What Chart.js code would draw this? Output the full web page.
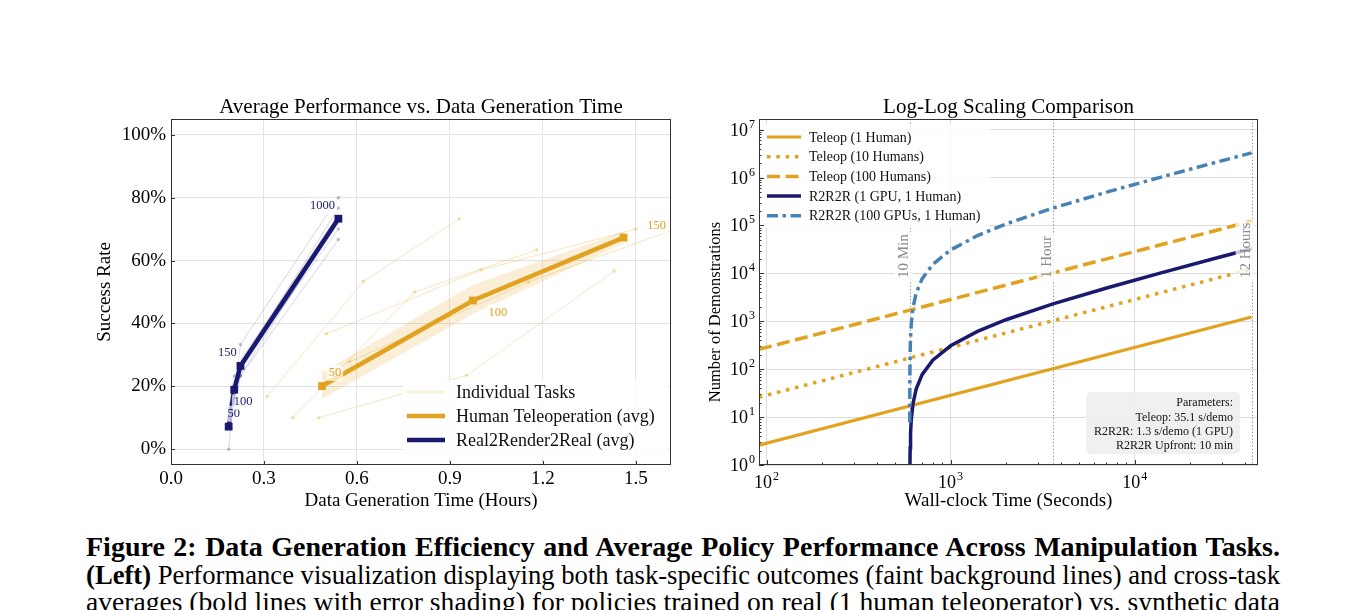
<!DOCTYPE html>
<html>
<head>
<meta charset="utf-8">
<script src="https://cdn.jsdelivr.net/npm/chart.js@4.4.1/dist/chart.umd.min.js"></script>
<style>
  html, body { margin: 0; padding: 0; background: #fff; }
  body { width: 1358px; height: 610px; overflow: hidden; position: relative; }
  .chart-box { position: absolute; top: 90px; width: 600px; height: 430px; }
  .cap { position: absolute; left: 86px; font-family: 'Liberation Serif', 'Times New Roman', serif;
         font-size: 28px; line-height: 28px; white-space: nowrap; color: #000; transform-origin: 0 0; }
</style>
</head>
<body>
<div class="chart-box" style="left:90px"><canvas id="left"></canvas></div>
<div class="chart-box" style="left:690px"><canvas id="right"></canvas></div>
<div class="cap" style="top:533px"><b>Figure 2: Data Generation Efficiency and Average Policy Performance Across Manipulation Tasks.</b></div>
<div class="cap" style="top:561px"><b>(Left)</b> Performance visualization displaying both task-specific outcomes (faint background lines) and cross-task</div>
<div class="cap" style="top:588px">averages (bold lines with error shading) for policies trained on real (1 human teleoperator) vs. synthetic data</div>
<script>
// ---- left chart: success rate vs hours ----
const hourTicks = [0.0, 0.3, 0.6, 0.9, 1.2, 1.5];
const rateTicks = [0, 20, 40, 60, 80, 100];

const teleopDemos = [50, 100, 150];
const teleopHours = [0.487, 0.974, 1.46];
const teleopAvg = [20.1, 47.3, 67.3];
const teleopLow = [16.0, 43.0, 65.4];
const teleopHigh = [24.4, 52.3, 69.2];

const r2rDemos = [50, 100, 150, 1000];
const r2rHours = [0.186, 0.204, 0.224, 0.54];
const r2rAvg = [7.2, 18.9, 26.5, 73.3];
const r2rLow = [5.2, 16.8, 24.6, 71.6];
const r2rHigh = [9.4, 21.2, 28.6, 75.0];

// individual tasks (5 per method)
const teleopTaskHours = [
  [0.31, 0.62, 0.93],
  [0.393, 0.786, 1.18],
  [0.477, 0.954, 1.43],
  [0.501, 1.0, 1.5],
  [0.576, 1.153, 1.73]
];
const teleopTaskRates = [
  [16.8, 53.3, 73.3],
  [10.0, 50.0, 63.4],
  [10.0, 23.5, 56.7],
  [36.7, 57.0, 70.0],
  [27.8, 53.2, 73.6]
];
const r2rTaskRates = [
  [0.0, 18.0, 33.3, 80.0],
  [7.0, 20.0, 26.7, 76.7],
  [13.0, 23.3, 26.7, 70.0],
  [10.0, 20.0, 23.3, 66.7],
  [6.7, 13.3, 23.3, 73.3]
];

// ---- right chart: log-log scaling ----
const secTicks = [100, 1000, 10000];
const demoTicks = [1, 10, 100, 1000, 10000, 100000, 1000000, 10000000];
const markerSec = [600, 3600, 43200];
const markerNames = ['10 Min', '1 Hour', '12 Hours'];

const teleopSec = [91, 43200];
const teleop1Human = [2.6, 1231];
const teleop10Humans = [26, 12310];
const teleop100Humans = [259, 123100];

const r2rSec = [600.1, 601, 603, 606, 612, 625, 650, 700, 800, 1000, 1400, 2000, 3600, 7200, 14400, 28800, 43200];
const r2r1Gpu = [0.077, 0.77, 2.3, 4.6, 9.2, 19.2, 38.5, 76.9, 154, 308, 615, 1077, 2308, 5077, 10615, 21692, 32769];
const r2r100Gpu = [7.7, 77, 231, 462, 923, 1923, 3846, 7692, 15385, 30769, 61538, 107692, 230769, 507692, 1061538, 2169231, 3276923];

const paramLines = ['Parameters:', 'Teleop: 35.1 s/demo', 'R2R2R: 1.3 s/demo (1 GPU)', 'R2R2R Upfront: 10 min'];

const SERIF = "'Liberation Serif', 'Times New Roman', serif";
const TELEOP = '#E2A21F';
const NAVY = '#191970';
const STEEL = '#4682B4';

const pts = (xs, ys) => xs.map((x, i) => ({ x: x, y: ys[i] }));

// fit each caption line to the full text width
document.querySelectorAll('.cap').forEach(el => {
  const gaps = (el.textContent.match(/ /g) || []).length;
  const w = el.getBoundingClientRect().width;
  if (w <= 1194) {
    el.style.wordSpacing = ((1194 - w) / gaps) + 'px';
  } else {
    el.style.transform = 'scaleX(' + (1194 / w) + ')';
  }
});

function roundRect(ctx, x, y, w, h, r) {
  ctx.beginPath();
  ctx.moveTo(x + r, y);
  ctx.arcTo(x + w, y, x + w, y + h, r);
  ctx.arcTo(x + w, y + h, x, y + h, r);
  ctx.arcTo(x, y + h, x, y, r);
  ctx.arcTo(x, y, x + w, y, r);
  ctx.closePath();
}

const plotTitle = {
  id: 'plotTitle',
  afterDraw(chart, args, opts) {
    const { ctx, chartArea: a } = chart;
    ctx.save();
    ctx.font = '21px ' + SERIF;
    ctx.fillStyle = '#000';
    ctx.textAlign = 'center';
    ctx.textBaseline = 'alphabetic';
    ctx.fillText(opts.text, (a.left + a.right) / 2, a.top - 6);
    ctx.restore();
  }
};

function drawFrame(ctx, a) {
  ctx.strokeStyle = '#333';
  ctx.lineWidth = 1;
  ctx.strokeRect(Math.round(a.left) + 0.5, Math.round(a.top) + 0.5,
    Math.round(a.right - a.left) - 1, Math.round(a.bottom - a.top) - 1);
}

// ---------- LEFT ----------
const leftSets = [];
leftSets.push({ data: pts(teleopHours, teleopLow), borderWidth: 0, pointRadius: 0, fill: false, order: 5 });
leftSets.push({ data: pts(teleopHours, teleopHigh), borderWidth: 0, pointRadius: 0, fill: 0,
  backgroundColor: 'rgba(226,162,31,0.18)', order: 5 });
leftSets.push({ data: pts(r2rHours, r2rLow), borderWidth: 0, pointRadius: 0, fill: false, order: 5 });
leftSets.push({ data: pts(r2rHours, r2rHigh), borderWidth: 0, pointRadius: 0, fill: 2,
  backgroundColor: 'rgba(25,25,112,0.12)', order: 5 });
teleopTaskHours.forEach((hrs, i) => leftSets.push({
  data: pts(hrs, teleopTaskRates[i]), borderColor: 'rgba(226,162,31,0.28)',
  backgroundColor: 'rgba(226,162,31,0.35)', borderWidth: 1, pointRadius: 1.8, pointBorderWidth: 0, order: 3
}));
r2rTaskRates.forEach(rates => leftSets.push({
  data: pts(r2rHours, rates), borderColor: 'rgba(25,25,112,0.18)',
  backgroundColor: 'rgba(25,25,112,0.25)', borderWidth: 1, pointRadius: 1.8, pointBorderWidth: 0, order: 3
}));
leftSets.push({ label: 'Human Teleoperation (avg)', data: pts(teleopHours, teleopAvg), borderColor: TELEOP,
  backgroundColor: TELEOP, borderWidth: 4.5, pointStyle: 'rect', pointRadius: 5.5, pointBorderWidth: 0, order: 1 });
leftSets.push({ label: 'Real2Render2Real (avg)', data: pts(r2rHours, r2rAvg), borderColor: NAVY,
  backgroundColor: NAVY, borderWidth: 4.5, pointStyle: 'rect', pointRadius: 5.5, pointBorderWidth: 0, order: 0 });

function pointLabel(ctx, text, x, y, color) {
  ctx.font = '12.5px ' + SERIF;
  const w = ctx.measureText(text).width;
  ctx.fillStyle = 'rgba(255,255,255,0.7)';
  roundRect(ctx, x - w / 2 - 2, y - 8, w + 4, 16, 3);
  ctx.fill();
  ctx.fillStyle = color;
  ctx.textAlign = 'center';
  ctx.textBaseline = 'middle';
  ctx.fillText(text, x, y);
}

const leftExtras = {
  id: 'leftExtras',
  afterDatasetsDraw(chart) {
    const { ctx, chartArea: a, scales: { x, y } } = chart;
    ctx.save();
    // demo-count labels
    const tOff = [[13, -13], [25, 12], [33, -12]];
    teleopDemos.forEach((d, i) => pointLabel(ctx, String(d),
      x.getPixelForValue(teleopHours[i]) + tOff[i][0], y.getPixelForValue(teleopAvg[i]) + tOff[i][1], TELEOP));
    const rOff = [[5, -13], [9, 12], [-13, -13], [-16, -13]];
    r2rDemos.forEach((d, i) => pointLabel(ctx, String(d),
      x.getPixelForValue(r2rHours[i]) + rOff[i][0], y.getPixelForValue(r2rAvg[i]) + rOff[i][1], NAVY));
    // legend
    ctx.fillStyle = 'rgba(255,255,255,0.85)';
    roundRect(ctx, a.right - 268, a.bottom - 85, 265, 79, 3);
    ctx.fill();
    const rows = [
      ['Individual Tasks', 'rgba(226,162,31,0.15)', 3],
      ['Human Teleoperation (avg)', TELEOP, 4.5],
      ['Real2Render2Real (avg)', NAVY, 4.5]
    ];
    ctx.font = '18px ' + SERIF;
    ctx.textAlign = 'left';
    ctx.textBaseline = 'middle';
    rows.forEach((r, i) => {
      const ry = a.bottom - 73 + i * 24;
      ctx.strokeStyle = r[1];
      ctx.lineWidth = r[2];
      ctx.beginPath();
      ctx.moveTo(a.right - 264, ry);
      ctx.lineTo(a.right - 226, ry);
      ctx.stroke();
      ctx.fillStyle = '#111';
      ctx.fillText(r[0], a.right - 215, ry + 1);
    });
    ctx.restore();
  },
  afterDraw(chart) {
    const { ctx, chartArea: a, scales: { x, y } } = chart;
    ctx.save();
    ctx.strokeStyle = '#333';
    ctx.lineWidth = 1;
    ctx.beginPath();
    hourTicks.forEach(v => {
      const px = Math.round(x.getPixelForValue(v)) + 0.5;
      ctx.moveTo(px, a.bottom); ctx.lineTo(px, a.bottom - 4);
    });
    rateTicks.forEach(v => {
      const py = Math.round(y.getPixelForValue(v)) + 0.5;
      ctx.moveTo(a.left, py); ctx.lineTo(a.left + 4, py);
    });
    ctx.stroke();
    drawFrame(ctx, a);
    ctx.restore();
  }
};

new Chart(document.getElementById('left'), {
  type: 'line',
  data: { datasets: leftSets },
  options: {
    responsive: true,
    maintainAspectRatio: false,
    animation: false,
    layout: { padding: { top: 29, right: 19, left: 0, bottom: 0 } },
    plugins: {
      legend: { display: false },
      tooltip: { enabled: false },
      plotTitle: { text: 'Average Performance vs. Data Generation Time' }
    },
    scales: {
      x: {
        type: 'linear', min: 0, max: 1.613,
        afterBuildTicks: s => { s.ticks = hourTicks.map(v => ({ value: v })); },
        afterFit: s => { s.height = 55; },
        ticks: { font: { family: SERIF, size: 19 }, color: '#000', padding: 3, callback: v => v.toFixed(1), maxRotation: 0 },
        grid: { color: '#e4e4e4', lineWidth: 1, drawTicks: false },
        border: { display: false },
        title: { display: true, text: 'Data Generation Time (Hours)', font: { family: SERIF, size: 19 }, color: '#000', padding: { top: 0, bottom: 8 } }
      },
      y: {
        type: 'linear', min: -5, max: 105,
        afterBuildTicks: s => { s.ticks = rateTicks.map(v => ({ value: v })); },
        afterFit: s => { s.width = 81; },
        ticks: { font: { family: SERIF, size: 19 }, color: '#000', padding: 5, callback: v => v + '%' },
        grid: { color: '#e2e2e2', lineWidth: 1, drawTicks: false },
        border: { display: false },
        title: { display: true, text: 'Success Rate', font: { family: SERIF, size: 19 }, color: '#000', padding: { top: 4, bottom: 0 } }
      }
    }
  },
  plugins: [plotTitle, leftExtras]
});

// ---------- RIGHT ----------
const rightSets = [
  { label: 'Teleop (1 Human)', data: pts(teleopSec, teleop1Human), borderColor: TELEOP, borderWidth: 3.2, order: 4 },
  { label: 'Teleop (10 Humans)', data: pts(teleopSec, teleop10Humans), borderColor: TELEOP, borderWidth: 3.5, borderDash: [3.5, 5.8], order: 3 },
  { label: 'Teleop (100 Humans)', data: pts(teleopSec, teleop100Humans), borderColor: TELEOP, borderWidth: 3.5, borderDash: [13, 5.6], order: 2 },
  { label: 'R2R2R (1 GPU, 1 Human)', data: pts(r2rSec, r2r1Gpu), borderColor: NAVY, borderWidth: 3.5, order: 1 },
  { label: 'R2R2R (100 GPUs, 1 Human)', data: pts(r2rSec, r2r100Gpu), borderColor: STEEL, borderWidth: 3.5, borderDash: [11, 4.5, 3.5, 4.5], order: 0 }
];
rightSets.forEach(d => { d.pointRadius = 0; d.fill = false; d.tension = 0; });

function powerLabel(ctx, exp, x, y, align) {
  ctx.font = '18px ' + SERIF;
  const bw = ctx.measureText('10').width;
  ctx.font = '12px ' + SERIF;
  const ew = ctx.measureText(String(exp)).width;
  const total = bw + ew + 1;
  const left = align === 'center' ? x - total / 2 : x - total;
  ctx.textAlign = 'left';
  ctx.textBaseline = 'alphabetic';
  ctx.fillStyle = '#000';
  ctx.font = '18px ' + SERIF;
  ctx.fillText('10', left, y);
  ctx.font = '12px ' + SERIF;
  ctx.fillText(String(exp), left + bw + 1, y - 8);
}

const rightExtras = {
  id: 'rightExtras',
  beforeDatasetsDraw(chart) {
    const { ctx, chartArea: a, scales: { x } } = chart;
    ctx.save();
    ctx.strokeStyle = 'rgba(110,110,110,0.8)';
    ctx.lineWidth = 1;
    ctx.setLineDash([1.2, 2.2]);
    markerSec.forEach(s => {
      const px = Math.round(x.getPixelForValue(s)) + 0.5;
      ctx.beginPath();
      ctx.moveTo(px, a.top);
      ctx.lineTo(px, a.bottom);
      ctx.stroke();
    });
    ctx.restore();
  },
  afterDatasetsDraw(chart) {
    const { ctx, chartArea: a, scales: { x, y } } = chart;
    ctx.save();
    // marker labels
    ctx.font = '15px ' + SERIF;
    markerSec.forEach((s, i) => {
      const px = x.getPixelForValue(s) - 6;
      const py = y.getPixelForValue(8000);
      const w = ctx.measureText(markerNames[i]).width;
      ctx.save();
      ctx.translate(px, py);
      ctx.rotate(-Math.PI / 2);
      ctx.fillStyle = 'rgba(255,255,255,0.75)';
      ctx.fillRect(-2, -10, w + 4, 19);
      ctx.fillStyle = '#8a8a8a';
      ctx.textAlign = 'left';
      ctx.textBaseline = 'middle';
      ctx.fillText(markerNames[i], 0, 0);
      ctx.restore();
    });
    // legend
    ctx.fillStyle = 'rgba(255,255,255,0.85)';
    roundRect(ctx, a.left + 3, a.top + 5, 228, 104, 3);
    ctx.fill();
    ctx.font = '14px ' + SERIF;
    ctx.textAlign = 'left';
    ctx.textBaseline = 'middle';
    chart.data.datasets.forEach((d, i) => {
      const ry = a.top + 18 + i * 19.7;
      ctx.strokeStyle = d.borderColor;
      ctx.lineWidth = d.borderWidth;
      ctx.setLineDash(d.borderDash || []);
      ctx.beginPath();
      ctx.moveTo(a.left + 8, ry);
      ctx.lineTo(a.left + 42, ry);
      ctx.stroke();
      ctx.setLineDash([]);
      ctx.fillStyle = '#111';
      ctx.fillText(d.label, a.left + 50, ry + 1);
    });
    // parameters box
    const bx = a.right - 172, by = a.bottom - 73;
    ctx.fillStyle = 'rgba(238,238,238,0.9)';
    roundRect(ctx, bx, by, 154, 62, 5);
    ctx.fill();
    ctx.font = '12px ' + SERIF;
    ctx.fillStyle = '#111';
    ctx.textAlign = 'right';
    paramLines.forEach((t, i) => ctx.fillText(t, a.right - 25, by + 11 + i * 14.4));
    ctx.restore();
  },
  afterDraw(chart) {
    const { ctx, chartArea: a, scales: { x, y } } = chart;
    ctx.save();
    ctx.strokeStyle = '#333';
    ctx.lineWidth = 1;
    ctx.beginPath();
    for (let dec = 10; dec <= 100000; dec *= 10) {
      for (let m = 1; m < 10; m++) {
        const v = dec * m;
        if (v < x.min || v > x.max) continue;
        const px = Math.round(x.getPixelForValue(v)) + 0.5;
        ctx.moveTo(px, a.bottom); ctx.lineTo(px, a.bottom - (m === 1 ? 5 : 2.5));
      }
    }
    for (let dec = 1; dec <= 10000000; dec *= 10) {
      for (let m = 1; m < 10; m++) {
        const v = dec * m;
        if (v < y.min || v > y.max) continue;
        const py = Math.round(y.getPixelForValue(v)) + 0.5;
        ctx.moveTo(a.left, py); ctx.lineTo(a.left + (m === 1 ? 5 : 2.5), py);
      }
    }
    ctx.stroke();
    drawFrame(ctx, a);
    secTicks.forEach(v => powerLabel(ctx, Math.round(Math.log10(v)), x.getPixelForValue(v), a.bottom + 23, 'center'));
    demoTicks.forEach(v => powerLabel(ctx, Math.round(Math.log10(v)), a.left - 4, y.getPixelForValue(v) + 6, 'right'));
    // y-axis title
    ctx.save();
    ctx.translate(26, (a.top + a.bottom) / 2 + 20);
    ctx.rotate(-Math.PI / 2);
    ctx.font = '16.5px ' + SERIF;
    ctx.fillStyle = '#000';
    ctx.textAlign = 'center';
    ctx.textBaseline = 'middle';
    ctx.fillText('Number of Demonstrations', 0, 0);
    ctx.restore();
    ctx.restore();
  }
};

new Chart(document.getElementById('right'), {
  type: 'line',
  data: { datasets: rightSets },
  options: {
    responsive: true,
    maintainAspectRatio: false,
    animation: false,
    layout: { padding: { top: 29, right: 32, left: 0, bottom: 0 } },
    plugins: {
      legend: { display: false },
      tooltip: { enabled: false },
      plotTitle: { text: 'Log-Log Scaling Comparison' }
    },
    scales: {
      x: {
        type: 'logarithmic', min: 91, max: 46800,
        afterBuildTicks: s => { s.ticks = secTicks.map(v => ({ value: v })); },
        afterFit: s => { s.height = 55; },
        ticks: { display: false },
        grid: { color: '#dcdcdc', lineWidth: 1, drawTicks: false },
        border: { display: false },
        title: { display: true, text: 'Wall-clock Time (Seconds)', font: { family: SERIF, size: 19 }, color: '#000', padding: { top: 0, bottom: 8 } }
      },
      y: {
        type: 'logarithmic', min: 1, max: 1.67e7,
        afterBuildTicks: s => { s.ticks = demoTicks.map(v => ({ value: v })); },
        afterFit: s => { s.width = 69; },
        ticks: { display: false },
        grid: { color: '#dcdcdc', lineWidth: 1, drawTicks: false },
        border: { display: false }
      }
    }
  },
  plugins: [plotTitle, rightExtras]
});
</script>
</body>
</html>
